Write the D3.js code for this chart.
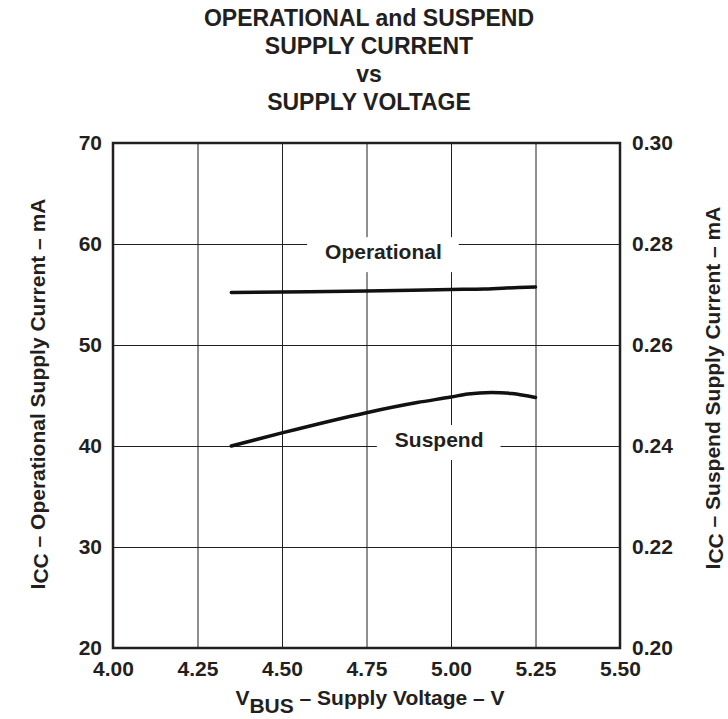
<!DOCTYPE html>
<html>
<head>
<meta charset="utf-8">
<script src="https://cdn.jsdelivr.net/npm/d3@7"></script>
<style>
  body { margin: 0; background: #fff; }
  svg text { font-family: "Liberation Sans", Arial, Helvetica, sans-serif; font-weight: bold; fill: #231f20; }
</style>
</head>
<body>
<div id="chart"></div>
<script>
(function () {
  var width = 728, height = 719;

  // values
  var titleLines = ["OPERATIONAL and SUSPEND", "SUPPLY CURRENT", "vs", "SUPPLY VOLTAGE"];
  var xTicks = [4.00, 4.25, 4.50, 4.75, 5.00, 5.25, 5.50];
  var yLeftTicks = [20, 30, 40, 50, 60, 70];
  var yRightTicks = [0.20, 0.22, 0.24, 0.26, 0.28, 0.30];

  // operational current (mA, left axis)
  var opVolts = [4.35, 4.50, 4.75, 5.00, 5.10, 5.20, 5.25];
  var opCurrent = [55.2, 55.25, 55.35, 55.5, 55.55, 55.7, 55.75];

  // suspend current (mA, right axis)
  var susVolts = [4.35, 4.50, 4.75, 4.90, 5.00, 5.05, 5.12, 5.18, 5.25];
  var susCurrent = [0.2400, 0.2426, 0.2466, 0.2486, 0.2497, 0.2503, 0.2506, 0.2504, 0.2496];

  var margin = {left: 113, right: 108, top: 143, bottom: 71};
  var w = width - margin.left - margin.right,
      h = height - margin.top - margin.bottom;

  var svg = d3.select("#chart")
    .append("svg")
    .attr("width", width)
    .attr("height", height);

  var g = svg.append("g")
    .attr("transform", "translate(" + margin.left + "," + margin.top + ")");

  var x = d3.scaleLinear().domain([4.0, 5.5]).range([0, w]);
  var yL = d3.scaleLinear().domain([20, 70]).range([h, 0]);
  var yR = d3.scaleLinear().domain([0.20, 0.30]).range([h, 0]);

  // title
  svg.append("g").selectAll("text")
    .data(titleLines)
    .enter().append("text")
    .attr("x", 369)
    .attr("y", function (d, i) { return 26 + i * 28; })
    .attr("text-anchor", "middle")
    .style("font-size", "23px")
    .text(function (d) { return d; });

  // grid + tick labels
  var xAxis = g.append("g")
    .attr("transform", "translate(0," + h + ")")
    .call(d3.axisBottom(x).tickValues(xTicks).tickSize(-h).tickPadding(13).tickFormat(d3.format(".2f")));

  var yAxis = g.append("g")
    .call(d3.axisLeft(yL).tickValues(yLeftTicks).tickSize(-w).tickPadding(11).tickFormat(d3.format("d")));

  var yAxis2 = g.append("g")
    .attr("transform", "translate(" + w + ",0)")
    .call(d3.axisRight(yR).tickValues(yRightTicks).tickSize(0).tickPadding(12).tickFormat(d3.format(".2f")));

  [xAxis, yAxis, yAxis2].forEach(function (a) {
    a.select(".domain").remove();
    a.selectAll(".tick line").attr("stroke", "#231f20").attr("stroke-width", 1);
    a.selectAll(".tick text")
      .style("font-size", "21px")
      .style("font-family", "\"Liberation Sans\", Arial, sans-serif")
      .style("font-weight", "bold")
      .attr("fill", "#231f20");
  });

  // label boxes that break the grid
  var labels = [
    {text: "Operational", vx: 4.80, vy: yL(58.5)},
    {text: "Suspend", vx: 4.965, vy: yR(0.2398)}
  ];

  labels.forEach(function (l) {
    var t = g.append("text")
      .attr("x", x(l.vx))
      .attr("y", l.vy)
      .attr("text-anchor", "middle")
      .style("font-size", "21px")
      .text(l.text);
    var bb = t.node().getBBox();
    g.insert("rect", function () { return t.node(); })
      .attr("x", bb.x - 18)
      .attr("y", l.vy - 22)
      .attr("width", bb.width + 35)
      .attr("height", 35)
      .attr("fill", "#fff");
  });

  // frame
  g.append("rect")
    .attr("width", w)
    .attr("height", h)
    .attr("fill", "none")
    .attr("stroke", "#231f20")
    .attr("stroke-width", 2.5);

  // curves
  var opLine = d3.line()
    .x(function (d, i) { return x(opVolts[i]); })
    .y(function (d) { return yL(d); })
    .curve(d3.curveMonotoneX);

  var susLine = d3.line()
    .x(function (d, i) { return x(susVolts[i]); })
    .y(function (d) { return yR(d); })
    .curve(d3.curveMonotoneX);

  g.append("path")
    .attr("d", opLine(opCurrent))
    .attr("fill", "none")
    .attr("stroke", "#111")
    .attr("stroke-width", 3.5)
    .attr("stroke-linecap", "round");

  g.append("path")
    .attr("d", susLine(susCurrent))
    .attr("fill", "none")
    .attr("stroke", "#111")
    .attr("stroke-width", 3.5)
    .attr("stroke-linecap", "round");

  // axis titles
  var xt = svg.append("text")
    .attr("x", 370)
    .attr("y", 705)
    .attr("text-anchor", "middle")
    .style("font-size", "21px");
  xt.append("tspan").text("V");
  xt.append("tspan").attr("dy", 8).text("BUS");
  xt.append("tspan").attr("dy", -8).text(" \u2013 Supply Voltage \u2013 V");

  var yt = svg.append("text")
    .attr("transform", "translate(45,394) rotate(-90)")
    .attr("text-anchor", "middle")
    .style("font-size", "21px");
  yt.append("tspan").text("I");
  yt.append("tspan").attr("dy", 3).text("CC");
  yt.append("tspan").attr("dy", -3).text(" \u2013 Operational Supply Current \u2013 mA");

  var yt2 = svg.append("text")
    .attr("transform", "translate(720,388) rotate(-90)")
    .attr("text-anchor", "middle")
    .style("font-size", "21px");
  yt2.append("tspan").text("I");
  yt2.append("tspan").attr("dy", 3).text("CC");
  yt2.append("tspan").attr("dy", -3).text(" \u2013 Suspend Supply Current \u2013 mA");
})();
</script>
</body>
</html>
